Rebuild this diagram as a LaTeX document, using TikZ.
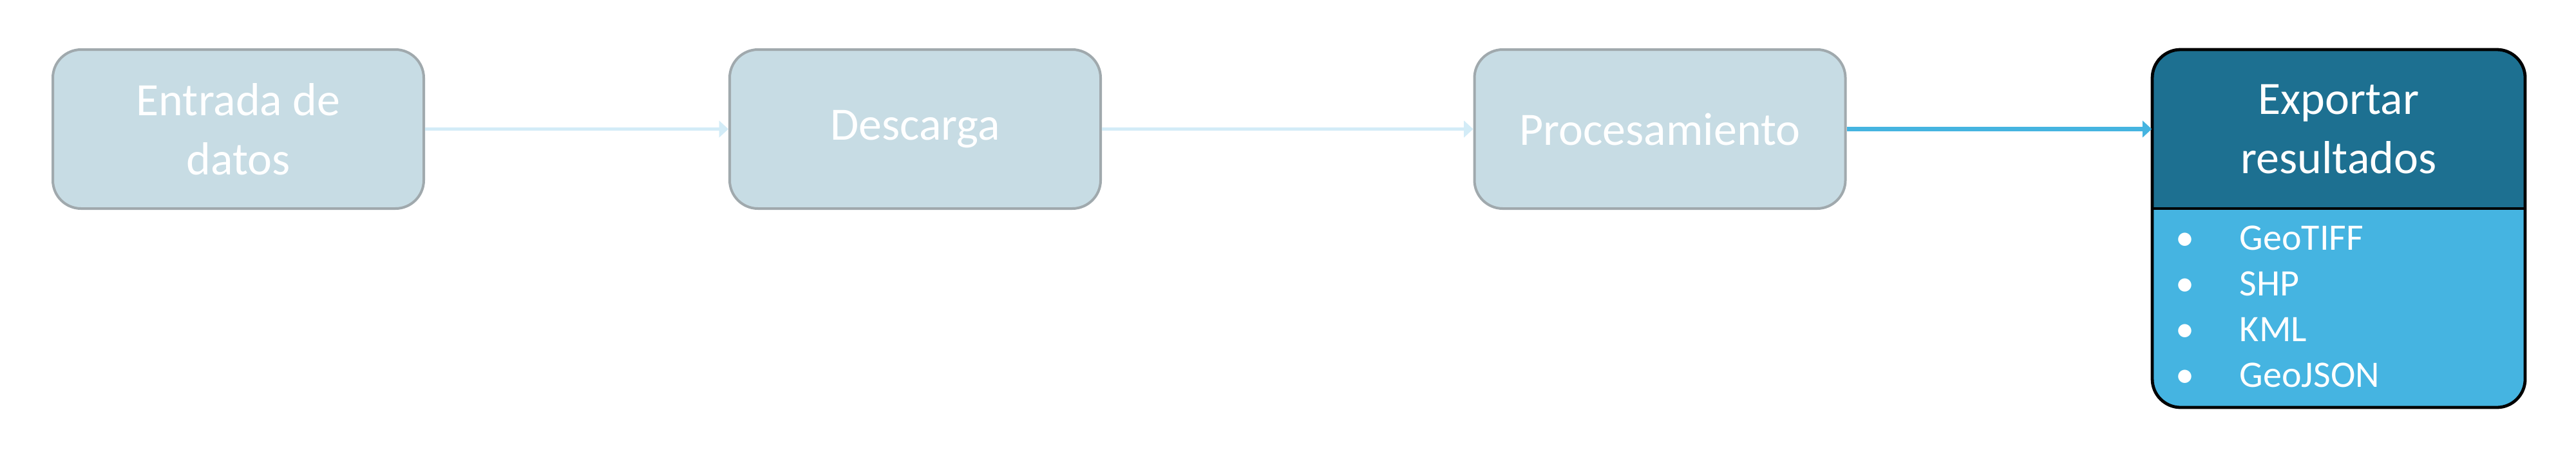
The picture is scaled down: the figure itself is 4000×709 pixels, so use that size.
\documentclass[tikz,border=0pt]{standalone}
\usepackage{fontspec}
\setmainfont{Carlito}
\usetikzlibrary{arrows.meta}
\definecolor{boxfill}{HTML}{C7DCE4}
\definecolor{boxedge}{HTML}{A0A9AD}
\definecolor{lightarrow}{HTML}{D3ECF7}
\definecolor{darkarrow}{HTML}{45B4E0}
\definecolor{hdrfill}{HTML}{1D7091}
\definecolor{listfill}{HTML}{45B4E1}
\begin{document}
\begin{tikzpicture}[x=0.25pt,y=-0.25pt,
  stepbox/.style={draw=boxedge, line width=1pt, fill=boxfill, rounded corners=11pt,
    minimum width=144pt, minimum height=61.75pt, align=center, text=white,
    font=\fontsize{18}{23}\selectfont, inner sep=0pt},
  hdrbox/.style={minimum width=144.75pt, minimum height=61.75pt, align=center, text=white,
    font=\fontsize{18}{23}\selectfont, inner sep=0pt},
  listbox/.style={minimum width=144.75pt, minimum height=77.25pt, inner sep=0pt},
  item/.style={text=white, font=\fontsize{14.5}{17.7}\selectfont, inner sep=0pt},
  flow/.style={-{Triangle[length=3.6pt,width=6.4pt]}, line width=1.3pt, draw=lightarrow},
  flowdark/.style={-{Triangle[length=3.6pt,width=6.4pt]}, line width=1.6pt, draw=darkarrow}]
\useasboundingbox (0,0) rectangle (4000,709);

\node[stepbox] (in) at (370,200.5) {Entrada de\\datos};
\node[stepbox] (dl) at (1421,200.5) {Descarga};
\node[stepbox] (proc) at (2577.5,200.5) {Procesamiento};

\coordinate (exNW) at (3342,77);
\coordinate (exSE) at (3921,633);
\coordinate (exDW) at (3342,324);
\coordinate (exDE) at (3921,324);
\begin{scope}
  \clip[rounded corners=11pt] (exNW) rectangle (exSE);
  \fill[hdrfill] (exNW) rectangle (exDE);
  \fill[listfill] (exDW) rectangle (exSE);
\end{scope}
\draw[line width=1.2pt, rounded corners=11pt] (exNW) rectangle (exSE);
\draw[line width=1.2pt] (exDW) -- (exDE);

\node[hdrbox] (hdr) at (3631.5,200.5) {Exportar\\resultados};
\node[listbox] (lst) at (3631.5,478.5) {};

\node[item, anchor=base] (b1) at (3393,388) {•};
\node[item, anchor=base] (b2) at (3393,459) {•};
\node[item, anchor=base] (b3) at (3393,530) {•};
\node[item, anchor=base] (b4) at (3393,601) {•};
\node[item, anchor=base west] (f1) at (3477,388) {GeoTIFF};
\node[item, anchor=base west] (f2) at (3477,459) {SHP};
\node[item, anchor=base west] (f3) at (3477,530) {KML};
\node[item, anchor=base west] (f4) at (3477,601) {GeoJSON};

\draw[flow] (in) -- (dl);
\draw[flow] (dl) -- (proc);
\draw[flowdark] (proc) -- (hdr);
\end{tikzpicture}
\end{document}
